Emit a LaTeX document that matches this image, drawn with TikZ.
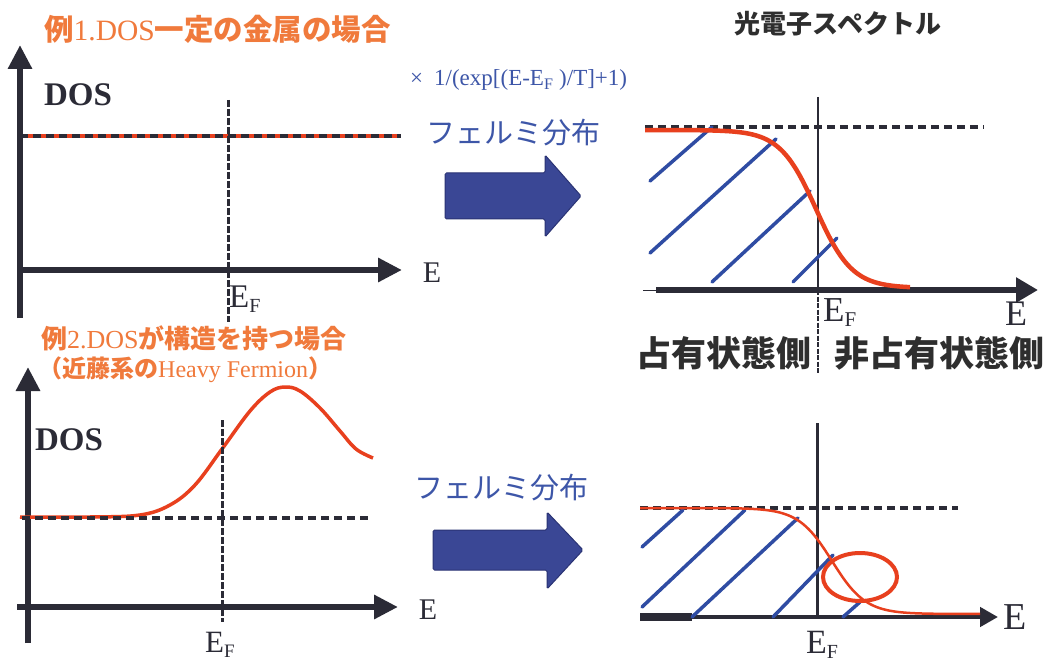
\documentclass[tikz,border=0pt]{standalone}
\usepackage{fontspec}
\setmainfont{Liberation Serif}
\newfontfamily\cjk{Noto Sans CJK JP}
\usetikzlibrary{arrows.meta}
\definecolor{axc}{HTML}{2B2B36}
\definecolor{orn}{HTML}{F07A3C}
\definecolor{redc}{HTML}{E8401E}
\definecolor{bluh}{HTML}{2F4CA3}
\definecolor{bluetxt}{HTML}{3D56A8}
\definecolor{arrf}{HTML}{3A4795}
\definecolor{arrd}{HTML}{2A3374}
\definecolor{darktxt}{HTML}{2E2E2E}
\newcommand\fs[1]{\fontsize{#1}{#1}\selectfont}
\newcommand\EFlab[2]{\fs{#1}E\raisebox{-5pt}{\fs{#2}F}}
\tikzset{
  axisline/.style={line width=6pt, draw=axc, -{Triangle[length=24pt,width=23pt]}},
  hatchline/.style={draw=bluh, line width=3.5pt, line cap=round},
  redcurve/.style={draw=redc, line width=3.5pt},
  blackdash/.style={draw=axc, line width=3.5pt, dash pattern=on 8pt off 5pt},
  vdash/.style={draw=axc, line width=3pt, dash pattern=on 7pt off 2pt},
  bigarrow/.style={fill=arrf, draw=arrd, line width=1pt, rounded corners=1.5pt},
  jtitle/.style={text=orn, inner sep=0pt, anchor=west},
  bluejp/.style={font=\cjk\fs{29}, text=bluetxt, inner sep=0pt},
  serifl/.style={text=axc, inner sep=0pt}
}
\begin{document}
\begin{tikzpicture}[x=1pt,y=-1pt]
\useasboundingbox (0,0) rectangle (1046,668);
\fill[white] (0,0) rectangle (1046,668);

% ---------- top-left: constant DOS ----------
\node[jtitle] (t1) at (44,29) {{\cjk\bfseries\fs{29.5}例}\fs{29.5}1.DOS{\cjk\bfseries\fs{29.5}一定の金属の場合}};
\draw[axisline] (20,318) coordinate (tlyb) -- (20,45) coordinate (tlyt);
\draw[axisline] (18,270) coordinate (tlxl) -- (402,270) coordinate (tlxr);
\draw[redc, line width=4pt] (20,136) -- (401,136);
\draw[blackdash] (20,136) -- (401,136);
\draw[vdash] (228,100) -- (228,322);
\node[serifl, font=\fs{33}\bfseries] (dos1) at (78,95) {DOS};
\node[serifl, font=\fs{30}] (e1) at (432,273) {E};
\node[serifl, anchor=west] (ef1) at (229,299) {\EFlab{33}{20}};

% ---------- middle top ----------
\node[anchor=west, inner sep=0pt, text=bluetxt, font=\fs{23}] (fx) at (410,80) {×\hspace{11pt}1/(exp[(E-E\textsubscript{F} )/T]+1)};
\node[bluejp] (fd1) at (513,133) {フェルミ分布};
\path[bigarrow] (445,173) -- (545,173) -- (545,155) -- (581,196) -- (545,237) -- (545,219) -- (445,219) -- cycle;

% ---------- top-right: spectrum ----------
\node[font=\cjk\bfseries\fs{26}, text=darktxt, inner sep=0pt] (spec) at (838,24) {光電子スペクトル};
\draw[axc, line width=1pt] (643,290) -- (658,290);
\draw[axisline, -{Triangle[length=22pt,width=24pt]}] (656,290) -- (1038,290);
\draw[blackdash] (645,127) -- (984,127);
\draw[axc, line width=2.5pt] (818,97) -- (818,290);
\draw[axc, line width=2.5pt, dash pattern=on 5pt off 1.5pt] (818,290) -- (818,373);
\draw[hatchline] (650,181) -- (712,127);
\draw[hatchline] (650,253) -- (776,139);
\draw[hatchline] (712,282) -- (810,191);
\draw[hatchline] (793,282) -- (837,238);
\draw[redcurve, line width=4.5pt] plot[domain=645:910, samples=120] (\x,{288-158/(exp((\x-816)/18)+1)});
\node[serifl, anchor=west] (ef2) at (823,313) {\EFlab{35}{21}};
\node[serifl, font=\fs{36}] (e2) at (1016,314) {E};
\node[font=\cjk\bfseries\fs{35}, text=darktxt, inner sep=0pt] (occ) at (724,353) {占有状態側};
\node[font=\cjk\bfseries\fs{35}, text=darktxt, inner sep=0pt] (unocc) at (939,353) {非占有状態側};

% ---------- bottom-left: structured DOS ----------
\node[jtitle] (t2) at (41,338) {{\cjk\bfseries\fs{26}例}\fs{26}2.DOS{\cjk\bfseries\fs{26}が構造を持つ場合}};
\node[jtitle] (t3) at (38,370) {{\cjk\bfseries\fs{24}（近藤系の}\fs{24}Heavy Fermion{\cjk\bfseries\fs{24}）}};
\draw[axisline] (28,643) -- (28,367);
\draw[axisline] (17,607) -- (398,607);
\draw[redcurve, line width=3.5pt] plot[smooth, tension=0.6] coordinates {(20,517) (90,517) (140,515) (170,505) (195,485) (222,449) (250,411) (270,392) (285,387) (300,391) (320,408) (340,431) (356,449) (373,458)};
\draw[blackdash] (22,518) -- (370,518);
\draw[vdash] (222,420) -- (222,622);
\node[serifl, font=\fs{33}\bfseries] (dos2) at (69,440) {DOS};
\node[serifl, font=\fs{30}] (e3) at (428,610) {E};
\node[serifl, anchor=west] (ef3) at (205,645) {\EFlab{31}{19}};

% ---------- middle bottom ----------
\node[bluejp] (fd2) at (501,488) {フェルミ分布};
\path[bigarrow] (433,530) -- (547,530) -- (547,512) -- (583,550) -- (547,589) -- (547,570) -- (433,570) -- cycle;

% ---------- bottom-right ----------
\draw[axisline, line width=4.5pt, -{Triangle[length=18pt,width=19pt]}] (640,617) -- (998,617);
\draw[axc, line width=7.5pt] (640,617) -- (692,617);
\draw[blackdash] (640,508) -- (958,508);
\draw[axc, line width=3pt] (817,423) -- (817,617);
\draw[hatchline] (642,547) -- (683,510);
\draw[hatchline] (642,607) -- (745,510);
\draw[hatchline] (692,617) -- (798,518);
\draw[hatchline] (773,617) -- (833,555);
\draw[hatchline] (843,617) -- (860,602);
\draw[redcurve, line width=2.5pt] plot[domain=640:980, samples=120] (\x,{614-106/(exp((\x-832)/16.8)+1)});
\draw[redc, line width=4pt] (860,577) ellipse [x radius=37pt, y radius=24pt];
\node[serifl, anchor=west] (ef4) at (806,645) {\EFlab{34}{20}};
\node[serifl, font=\fs{38}] (e4) at (1015,617) {E};
\end{tikzpicture}
\end{document}
